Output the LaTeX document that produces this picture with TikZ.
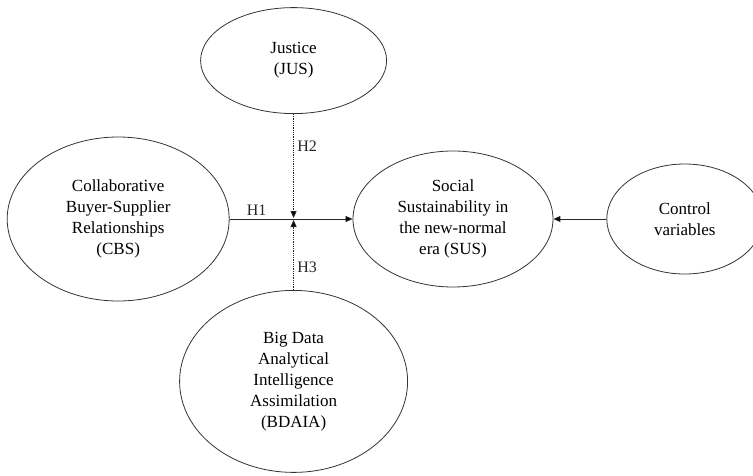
\documentclass[tikz,border=0pt]{standalone}
\usepackage{fontspec}
\setmainfont{Liberation Serif}
\usetikzlibrary{positioning,shapes.geometric,arrows.meta}

\begin{document}
\begin{tikzpicture}[
            x=1pt, y=1pt,
            ovalnode/.style={ellipse, draw=black!80, line width=0.8pt, inner sep=0pt, align=center, font=\fontsize{17}{21}\selectfont},
            hlabel/.style={font=\fontsize{16}{19}\selectfont, text=black!85},
            >={Triangle[length=7pt,width=6pt]},
        ]
        \useasboundingbox (-453,-256) rectangle (300,219);

        \node[ovalnode, minimum width=200pt, minimum height=136pt] (sus) at (0,0) {Social\\Sustainability in\\the new-normal\\era (SUS)};
        \node[ovalnode, minimum width=222pt, minimum height=164pt] (cbs) [left=123pt of sus] {Collaborative\\Buyer-Supplier\\Relationships\\(CBS)};
        \node[ovalnode, minimum width=156pt, minimum height=110pt] (ctrl) [right=53pt of sus] {Control\\variables};
        \coordinate[left=59pt of sus.west] (mid);
        \node[ovalnode, minimum width=186pt, minimum height=106pt] (jus) [above=105pt of mid] {Justice\\(JUS)};
        \node[ovalnode, minimum width=228pt, minimum height=182pt] (bdaia) [below=71pt of mid] {Big Data\\Analytical\\Intelligence\\Assimilation\\(BDAIA)};

        \draw[line width=0.8pt, draw=black!85, ->] (cbs) edge node[hlabel, above, pos=0.22] {H1} (sus);
        \draw[line width=0.8pt, draw=black!85, ->] (ctrl) edge (sus);

        \draw[line width=0.8pt, draw=black!85, densely dotted, ->, shorten >=1pt] (jus) edge node[hlabel, right, pos=0.31] {H2} (mid);
        \draw[line width=0.8pt, draw=black!85, densely dotted, ->, shorten >=1pt] (bdaia) edge node[hlabel, right, pos=0.32] {H3} (mid);

    \end{tikzpicture}
\end{document}
